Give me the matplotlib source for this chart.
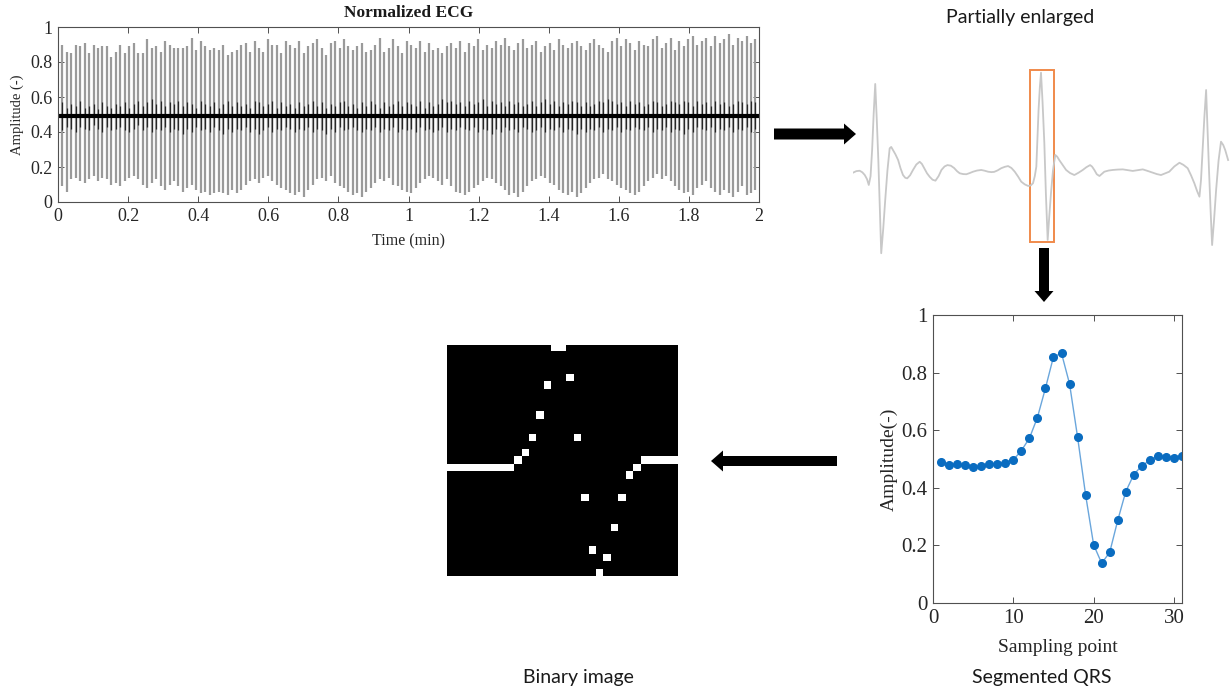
import numpy as np
import matplotlib
matplotlib.use("Agg")
import matplotlib.pyplot as plt
from matplotlib.patches import Rectangle, FancyArrow

# ---- Normalized ECG (one value per beat) ----
ecg_peaks = [
    0.90, 0.86, 0.85, 0.90, 0.89, 0.91, 0.85, 0.90, 0.88, 0.89, 0.89, 0.83, 0.86,
    0.90, 0.85, 0.89, 0.91, 0.85, 0.85, 0.93, 0.88, 0.89, 0.86, 0.92, 0.90, 0.88,
    0.88, 0.88, 0.89, 0.94, 0.87, 0.92, 0.89, 0.87, 0.88, 0.87, 0.90, 0.84, 0.86,
    0.87, 0.90, 0.91, 0.86, 0.92, 0.88, 0.86, 0.93, 0.90, 0.90, 0.85, 0.92, 0.90,
    0.88, 0.92, 0.85, 0.89, 0.91, 0.93, 0.88, 0.84, 0.91, 0.92, 0.88, 0.93, 0.89,
    0.87, 0.89, 0.91, 0.86, 0.87, 0.90, 0.94, 0.86, 0.88, 0.93, 0.89, 0.85, 0.92,
    0.90, 0.88, 0.92, 0.86, 0.91, 0.87, 0.88, 0.85, 0.89, 0.91, 0.88, 0.92, 0.86,
    0.91, 0.89, 0.93, 0.87, 0.90, 0.88, 0.92, 0.90, 0.94, 0.89, 0.87, 0.91, 0.93,
    0.88, 0.90, 0.92, 0.86, 0.89, 0.91, 0.87, 0.93, 0.90, 0.88, 0.91, 0.92, 0.89,
    0.87, 0.91, 0.93, 0.90, 0.88, 0.86, 0.92, 0.94, 0.89, 0.93, 0.91, 0.87, 0.92,
    0.90, 0.89, 0.93, 0.95, 0.88, 0.91, 0.94, 0.87, 0.92, 0.89, 0.93, 0.95, 0.90,
    0.92, 0.94, 0.89, 0.95, 0.91, 0.93, 0.96, 0.90, 0.94, 0.92, 0.95, 0.91, 0.93,
]
ecg_troughs = [
    0.09, 0.06, 0.13, 0.14, 0.12, 0.11, 0.13, 0.15, 0.12, 0.14, 0.13, 0.10, 0.11,
    0.09, 0.12, 0.14, 0.15, 0.13, 0.10, 0.08, 0.11, 0.13, 0.09, 0.07, 0.10, 0.12,
    0.09, 0.06, 0.08, 0.10, 0.07, 0.05, 0.06, 0.04, 0.05, 0.06, 0.05, 0.04, 0.07,
    0.05, 0.07, 0.10, 0.12, 0.13, 0.11, 0.14, 0.15, 0.12, 0.10, 0.08, 0.07, 0.05,
    0.04, 0.06, 0.03, 0.07, 0.10, 0.13, 0.14, 0.12, 0.15, 0.11, 0.09, 0.08, 0.06,
    0.04, 0.05, 0.03, 0.06, 0.08, 0.11, 0.13, 0.12, 0.14, 0.10, 0.09, 0.07, 0.06,
    0.05, 0.08, 0.11, 0.13, 0.15, 0.14, 0.12, 0.10, 0.13, 0.09, 0.06, 0.05, 0.04,
    0.06, 0.08, 0.10, 0.12, 0.14, 0.13, 0.11, 0.09, 0.07, 0.04, 0.05, 0.03, 0.06,
    0.09, 0.12, 0.13, 0.15, 0.14, 0.11, 0.10, 0.07, 0.05, 0.04, 0.06, 0.03, 0.05,
    0.08, 0.11, 0.13, 0.14, 0.16, 0.13, 0.12, 0.10, 0.08, 0.07, 0.05, 0.04, 0.06,
    0.09, 0.12, 0.14, 0.16, 0.13, 0.15, 0.12, 0.09, 0.07, 0.05, 0.06, 0.04, 0.08,
    0.10, 0.12, 0.08, 0.06, 0.04, 0.07, 0.05, 0.03, 0.06, 0.09, 0.04, 0.05, 0.07,
]
# P / T wave extent around the baseline for each beat
wave_top = [
    0.57, 0.54, 0.56, 0.55, 0.58, 0.54, 0.55, 0.56, 0.53, 0.57, 0.55, 0.54, 0.56,
    0.55, 0.57, 0.54, 0.56, 0.58, 0.55, 0.57, 0.59, 0.56, 0.58, 0.55, 0.57, 0.56,
    0.58, 0.55, 0.57, 0.56, 0.54, 0.58, 0.56, 0.55, 0.57, 0.54, 0.56, 0.58, 0.55,
    0.57, 0.55, 0.56, 0.54, 0.58, 0.57, 0.55, 0.56, 0.58, 0.54, 0.57, 0.55, 0.56,
    0.54, 0.57, 0.55, 0.56, 0.58, 0.55, 0.57, 0.54, 0.56, 0.55, 0.57, 0.58, 0.55,
    0.56, 0.54, 0.57, 0.55, 0.58, 0.56, 0.54, 0.57, 0.55, 0.56, 0.58, 0.55, 0.57,
    0.56, 0.55, 0.58, 0.54, 0.57, 0.55, 0.56, 0.59, 0.57, 0.58, 0.56, 0.57, 0.55,
    0.58, 0.56, 0.57, 0.59, 0.55, 0.58, 0.56, 0.57, 0.55, 0.58, 0.56, 0.57, 0.55,
    0.56, 0.58, 0.55, 0.57, 0.59, 0.56, 0.58, 0.55, 0.57, 0.56, 0.58, 0.57, 0.55,
    0.57, 0.55, 0.56, 0.58, 0.57, 0.59, 0.58, 0.56, 0.57, 0.55, 0.58, 0.56, 0.57,
    0.55, 0.56, 0.58, 0.57, 0.55, 0.56, 0.58, 0.57, 0.56, 0.58, 0.57, 0.55, 0.58,
    0.56, 0.57, 0.55, 0.58, 0.56, 0.57, 0.55, 0.56, 0.58, 0.57, 0.56, 0.58, 0.57,
]
wave_bottom = [
    0.41, 0.43, 0.42, 0.40, 0.43, 0.42, 0.41, 0.44, 0.42, 0.40, 0.43, 0.41, 0.42,
    0.43, 0.41, 0.40, 0.42, 0.44, 0.41, 0.43, 0.40, 0.42, 0.41, 0.43, 0.40, 0.42,
    0.41, 0.39, 0.42, 0.40, 0.43, 0.41, 0.42, 0.40, 0.43, 0.41, 0.39, 0.42, 0.40,
    0.42, 0.41, 0.43, 0.40, 0.42, 0.39, 0.41, 0.43, 0.40, 0.42, 0.41, 0.43, 0.42,
    0.40, 0.42, 0.41, 0.43, 0.40, 0.42, 0.41, 0.39, 0.42, 0.40, 0.43, 0.41, 0.42,
    0.43, 0.41, 0.40, 0.42, 0.41, 0.43, 0.40, 0.42, 0.41, 0.43, 0.40, 0.42, 0.41,
    0.42, 0.40, 0.43, 0.41, 0.42, 0.40, 0.41, 0.43, 0.40, 0.42, 0.41, 0.43, 0.42,
    0.41, 0.43, 0.40, 0.42, 0.41, 0.39, 0.42, 0.40, 0.43, 0.41, 0.42, 0.40, 0.43,
    0.42, 0.40, 0.41, 0.43, 0.40, 0.42, 0.41, 0.43, 0.40, 0.42, 0.41, 0.39, 0.42,
    0.40, 0.42, 0.41, 0.43, 0.40, 0.42, 0.41, 0.43, 0.40, 0.42, 0.41, 0.43, 0.42,
    0.41, 0.43, 0.40, 0.42, 0.41, 0.43, 0.40, 0.42, 0.41, 0.39, 0.42, 0.40, 0.43,
    0.42, 0.41, 0.43, 0.40, 0.42, 0.41, 0.43, 0.40, 0.42, 0.41, 0.43, 0.40, 0.42,
]
ecg_baseline = 0.49
ecg_xticks = [0, 0.2, 0.4, 0.6, 0.8, 1, 1.2, 1.4, 1.6, 1.8, 2]
ecg_xticklabels = ["0", "0.2", "0.4", "0.6", "0.8", "1", "1.2", "1.4", "1.6", "1.8", "2"]
amp_ticks = [0, 0.2, 0.4, 0.6, 0.8, 1]
amp_ticklabels = ["0", "0.2", "0.4", "0.6", "0.8", "1"]

# ---- Partially enlarged trace (time in ms, normalized amplitude) ----
enl_t = [0, 15, 30, 42, 53, 63, 71, 79, 86, 93, 100, 107, 114, 121, 127, 136, 145,
         155, 165, 172, 180, 191, 203, 214, 225, 235, 244, 257, 270, 285, 300, 310,
         320, 333, 345, 358, 371, 385, 398, 412, 425, 440, 455, 468, 480, 495, 510,
         525, 540, 558, 577, 593, 608, 622, 635, 651, 667, 683, 698, 713, 728, 743,
         757, 773, 788, 800, 810, 818, 825, 830, 835, 841, 846, 853, 861, 868, 876,
         883, 891, 900, 910, 919, 928, 943, 959, 977, 996, 1015, 1034, 1050, 1067,
         1076, 1086, 1097, 1109, 1120, 1131, 1150, 1169, 1191, 1214, 1236, 1259,
         1281, 1304, 1326, 1349, 1367, 1386, 1405, 1423, 1446, 1469, 1487, 1506,
         1521, 1536, 1548, 1559, 1566, 1573, 1581, 1589, 1595, 1602, 1609, 1616,
         1625, 1634, 1645, 1656, 1666, 1675, 1688]
enl_amp = [0.458, 0.466, 0.468, 0.460, 0.446, 0.425, 0.395, 0.440, 0.574, 0.760,
           0.913, 0.730, 0.523, 0.270, 0.045, 0.170, 0.318, 0.470, 0.583, 0.590,
           0.574, 0.552, 0.523, 0.480, 0.446, 0.432, 0.429, 0.445, 0.472, 0.500,
           0.514, 0.503, 0.482, 0.455, 0.437, 0.422, 0.417, 0.440, 0.472, 0.490,
           0.497, 0.494, 0.482, 0.466, 0.455, 0.451, 0.450, 0.456, 0.463, 0.469,
           0.472, 0.468, 0.463, 0.461, 0.462, 0.470, 0.481, 0.488, 0.492, 0.482,
           0.463, 0.438, 0.412, 0.398, 0.390, 0.393, 0.404, 0.440, 0.489, 0.630,
           0.779, 0.900, 0.971, 0.820, 0.610, 0.350, 0.113, 0.230, 0.354, 0.470,
           0.549, 0.540, 0.523, 0.498, 0.472, 0.456, 0.446, 0.458, 0.472, 0.486,
           0.497, 0.489, 0.472, 0.450, 0.441, 0.452, 0.463, 0.469, 0.472, 0.474,
           0.475, 0.471, 0.467, 0.471, 0.475, 0.467, 0.458, 0.451, 0.446, 0.455,
           0.463, 0.490, 0.509, 0.498, 0.481, 0.445, 0.404, 0.365, 0.335, 0.420,
           0.574, 0.740, 0.882, 0.690, 0.472, 0.270, 0.087, 0.220, 0.369, 0.520,
           0.617, 0.600, 0.574, 0.523]
qrs_window = [798, 906]  # ms, the boxed beat

# ---- Segmented QRS ----
qrs_index = list(range(1, 32))
qrs_amp = [0.488, 0.480, 0.482, 0.479, 0.473, 0.474, 0.483, 0.484, 0.487, 0.497,
           0.529, 0.572, 0.644, 0.746, 0.855, 0.867, 0.761, 0.576, 0.375, 0.202,
           0.138, 0.176, 0.287, 0.387, 0.446, 0.477, 0.495, 0.509, 0.508, 0.504,
           0.512]
qrs_xticks = [0, 10, 20, 30]

W, H = 1231, 694
serif = "Liberation Serif"
sans = "Lato"


def box(l, t, r, b):
    return [l / W, 1 - b / H, (r - l) / W, (b - t) / H]


def matlab_style(ax, size):
    for s in ax.spines.values():
        s.set_color("#505050")
        s.set_linewidth(0.8)
    ax.tick_params(direction="in", top=True, right=True, length=4, width=0.7,
                   color="#505050", labelcolor="#262626", labelsize=size, pad=4)
    for lab in ax.get_xticklabels() + ax.get_yticklabels():
        lab.set_family(serif)


fig = plt.figure(figsize=(W / 100, H / 100), dpi=100)

# Normalized ECG
ax1 = fig.add_axes(box(58, 27, 759, 202))
n_beats = len(ecg_peaks)
beat_t = np.linspace(0.012, 1.99, n_beats)
ax1.vlines(beat_t, ecg_troughs, ecg_peaks, color="#9a9a9a", lw=1.6)
ax1.vlines(beat_t, wave_bottom, wave_top, color="#262626", lw=0.9)
ax1.plot([0, 2], [ecg_baseline, ecg_baseline], color="black", lw=3.0)
ax1.set_xlim(0, 2)
ax1.set_ylim(0, 1)
ax1.set_xticks(ecg_xticks)
ax1.set_xticklabels(ecg_xticklabels)
ax1.set_yticks(amp_ticks)
ax1.set_yticklabels(amp_ticklabels)
matlab_style(ax1, 13)
ax1.text(0.5, 1.08, "Normalized ECG", transform=ax1.transAxes, ha="center", va="center",
         family=serif, fontweight="bold", fontsize=12.5, color="#1a1a1a")
ax1.text(-0.058, 0.5, "Amplitude (-)", transform=ax1.transAxes, rotation=90,
         ha="center", va="center", family=serif, fontsize=10.5, color="#262626")
ax1.text(0.5, -0.225, "Time (min)", transform=ax1.transAxes, ha="center", va="center",
         family=serif, fontsize=11.5, color="#262626")

# Partially enlarged
ax2 = fig.add_axes(box(853, 62, 1231, 262))
ax2.plot(enl_t, enl_amp, color="#c8c8c8", lw=1.3)
t_arr = np.array(enl_t)
a_arr = np.array(enl_amp)
inside = (t_arr >= qrs_window[0]) & (t_arr <= qrs_window[1])
lo, hi = a_arr[inside].min() - 0.01, a_arr[inside].max() + 0.015
ax2.add_patch(Rectangle((qrs_window[0], lo), qrs_window[1] - qrs_window[0], hi - lo,
                        fill=False, edgecolor="#f08a4b", lw=1.4))
ax2.set_xlim(0, 1701)
ax2.set_ylim(0, 200 / 195)
ax2.axis("off")

# Segmented QRS
ax3 = fig.add_axes(box(933, 315, 1182, 603))
ax3.plot(qrs_index, qrs_amp, color="#6aa6dc", lw=1.0, marker="o", markersize=5.5,
         markerfacecolor="#0a6cc0", markeredgecolor="#0a6cc0")
ax3.set_xlim(0, 31)
ax3.set_ylim(0, 1)
ax3.set_xticks(qrs_xticks)
ax3.set_yticks(amp_ticks)
ax3.set_yticklabels(amp_ticklabels)
matlab_style(ax3, 15)
ax3.text(-0.177, 0.5, "Amplitude(-)", transform=ax3.transAxes, rotation=90,
         ha="center", va="center", family=serif, fontsize=14, color="#262626")
ax3.text(0.5, -0.153, "Sampling point", transform=ax3.transAxes, ha="center",
         va="center", family=serif, fontsize=14, color="#262626")

# Binary image built from the segmented QRS samples
n = len(qrs_amp)
q = np.array(qrs_amp)
rows = np.round((q.max() - q) / (q.max() - q.min()) * (n - 1)).astype(int)
img = np.zeros((n, n))
img[rows, np.arange(n)] = 1
ax4 = fig.add_axes(box(446.7, 345, 676.7, 576.5))
ax4.imshow(img, cmap="gray", interpolation="nearest", aspect="auto", vmin=0, vmax=1)
ax4.axis("off")

# arrows and captions on an overlay in pixel units
ov = fig.add_axes([0, 0, 1, 1])
ov.set_xlim(0, W)
ov.set_ylim(H, 0)
ov.axis("off")
ov.patch.set_alpha(0)
ov.add_patch(FancyArrow(774, 134, 82, 0, width=11, head_width=21, head_length=12,
                        length_includes_head=True, color="black", lw=0))
ov.add_patch(FancyArrow(1044, 248, 0, 54, width=10, head_width=19, head_length=11,
                        length_includes_head=True, color="black", lw=0))
ov.add_patch(FancyArrow(837, 461, -126, 0, width=10, head_width=21, head_length=12,
                        length_includes_head=True, color="black", lw=0))
ov.text(1020, 17, "Partially enlarged", ha="center", va="center", family=sans,
        fontsize=14, color="#1a1a1a")
ov.text(1042, 678, "Segmented QRS", ha="center", va="center", family=sans,
        fontsize=14, color="#1a1a1a")
ov.text(578, 677, "Binary image", ha="center", va="center", family=sans,
        fontsize=14, color="#1a1a1a")

fig.savefig("out.png", dpi=100)
